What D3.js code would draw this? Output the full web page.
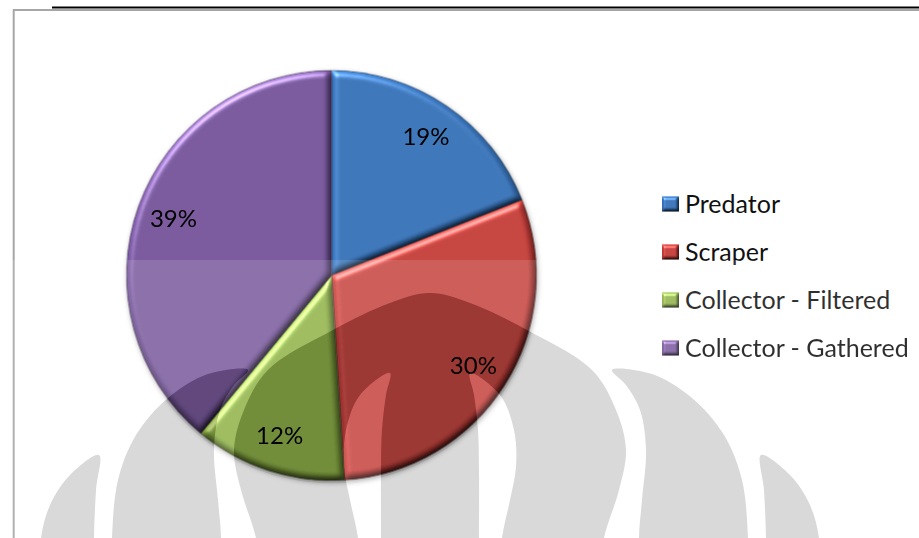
<!DOCTYPE html>
<html>
<head>
<meta charset="utf-8">
<script src="https://cdn.jsdelivr.net/npm/d3@7"></script>
<style>
  html, body { margin: 0; padding: 0; background: #fff; }
  svg { display: block; }
  text { font-family: Lato, "Open Sans", sans-serif; }
</style>
</head>
<body>
<svg id="chart" width="919" height="538"></svg>
<script>
// ---- data ----
const categories = ["Predator", "Scraper", "Collector - Filtered", "Collector - Gathered"];
const values = [19, 30, 12, 39];
const sliceColors = ["#3c7cc8", "#d5433e", "#98c048", "#7e5ba6"];
const percentLabels = ["19%", "30%", "12%", "39%"];

// ---- layout ----
const W = 919, H = 538;
const cx = 331.5, cy = 275.5, R = 205;
const labelR = 168;

const svg = d3.select("#chart");
const defs = svg.append("defs");

// soft bevel lighting for slices
function bevelFilter(id, blur, scale, gain) {
  const f = defs.append("filter").attr("id", id)
    .attr("color-interpolation-filters", "sRGB")
    .attr("x", "-5%").attr("y", "-5%").attr("width", "110%").attr("height", "110%");
  f.append("feGaussianBlur").attr("in", "SourceAlpha").attr("stdDeviation", blur).attr("result", "blur");
  f.append("feDiffuseLighting").attr("in", "blur").attr("surfaceScale", scale)
    .attr("diffuseConstant", 1).attr("lighting-color", "#fff").attr("result", "diff")
    .append("feDistantLight").attr("azimuth", 240).attr("elevation", 50);
  f.append("feComposite").attr("in", "SourceGraphic").attr("in2", "diff")
    .attr("operator", "arithmetic").attr("k1", gain)
    .attr("k2", 0).attr("k3", 0).attr("k4", 0).attr("result", "lit");
  f.append("feSpecularLighting").attr("in", "blur").attr("surfaceScale", scale)
    .attr("specularConstant", 0.45).attr("specularExponent", 35)
    .attr("lighting-color", "#fff").attr("result", "spec")
    .append("feDistantLight").attr("azimuth", 240).attr("elevation", 50);
  f.append("feComposite").attr("in", "spec").attr("in2", "SourceAlpha")
    .attr("operator", "in").attr("result", "specIn");
  f.append("feComposite").attr("in", "lit").attr("in2", "specIn")
    .attr("operator", "arithmetic").attr("k1", 0).attr("k2", 1).attr("k3", 1).attr("k4", 0);
}
bevelFilter("bevel", 3, 3, 1.14);
bevelFilter("bevelSmall", 1.5, 2, 1.14);

defs.append("filter").attr("id", "pieShadow")
  .attr("x", "-10%").attr("y", "-10%").attr("width", "120%").attr("height", "120%")
  .append("feDropShadow").attr("dx", 1).attr("dy", 2).attr("stdDeviation", 2.5)
  .attr("flood-color", "#000").attr("flood-opacity", 0.35);

// background
svg.append("rect").attr("width", W).attr("height", H).attr("fill", "#fff");

// frame lines
svg.append("line").attr("x1", 52).attr("x2", W).attr("y1", 7.5).attr("y2", 7.5)
  .attr("stroke", "#000").attr("stroke-width", 2);
svg.append("line").attr("x1", 13).attr("x2", W).attr("y1", 10).attr("y2", 10)
  .attr("stroke", "#a6a6a6").attr("stroke-width", 1.8);
svg.append("line").attr("x1", 13.7).attr("x2", 13.7).attr("y1", 9.5).attr("y2", H)
  .attr("stroke", "#a6a6a6").attr("stroke-width", 2);

// ---- pie ----
const pie = d3.pie().sort(null).value(d => d)(values);
const arc = d3.arc().innerRadius(0).outerRadius(R);
const labelArc = d3.arc().innerRadius(labelR).outerRadius(labelR);

const pieG = svg.append("g").attr("transform", `translate(${cx},${cy})`)
  .attr("filter", "url(#pieShadow)");
pieG.selectAll("path").data(pie).join("path")
  .attr("d", arc)
  .attr("fill", (d, i) => sliceColors[i])
  .attr("stroke", "rgba(0,0,0,0.25)")
  .attr("stroke-width", 1)
  .attr("filter", "url(#bevel)");

svg.append("g").attr("transform", `translate(${cx},${cy})`)
  .selectAll("text").data(pie).join("text")
  .attr("transform", d => `translate(${labelArc.centroid(d)})`)
  .attr("text-anchor", "middle")
  .attr("dy", "0.35em")
  .attr("font-size", 24)
  .attr("fill", "#000")
  .text((d, i) => percentLabels[i]);

// ---- legend ----
const legendY = d3.scalePoint().domain(categories).range([204, 348]);
const legend = svg.append("g");
const items = legend.selectAll("g").data(categories).join("g")
  .attr("transform", d => `translate(662,${legendY(d)})`);
items.append("rect").attr("x", 0).attr("y", -7.5).attr("width", 17).attr("height", 15)
  .attr("fill", (d, i) => sliceColors[i]).attr("filter", "url(#bevelSmall)");
items.append("text").attr("x", 23).attr("y", 8.5)
  .attr("font-size", 25).attr("fill", "#111")
  .text(d => d);

// ---- faint emblem printed over the lower page ----
const smooth = d3.line().curve(d3.curveCatmullRomClosed.alpha(0.5));
const emblemOutlines = [
  // central bulb
  [[430,293],[470,303],[527,330],[592,370],[616,410],[626,450],[619,490],[604,538],[600,575],
   [260,575],[256,538],[241,490],[234,450],[244,410],[268,370],[333,330],[390,303]],
  // openings inside the bulb
  [[470,373],[500,395],[514,430],[516,467],[510,500],[502,538],[500,575],[479,575],[479,538],[479,470],[478,430],[474,395]],
  [[390,373],[360,395],[346,430],[344,467],[350,500],[358,538],[360,575],[381,575],[381,538],[381,470],[382,430],[386,395]],
  // right petals
  [[612,370],[652,374],[692,398],[724,435],[742,480],[748,538],[748,575],[641,575],[639,538],[642,500],[646,450],[640,410],[626,385]],
  [[761,455],[790,475],[810,505],[819,538],[820,575],[766,575],[766,538],[764,490]],
  // left petals
  [[248,370],[208,374],[168,398],[136,435],[118,480],[112,538],[112,575],[219,575],[221,538],[218,500],[214,450],[220,410],[234,385]],
  [[99,455],[70,475],[50,505],[41,538],[40,575],[94,575],[94,538],[96,490]]
];
const emblemPath = emblemOutlines.map(p => smooth(p)).join(" ");

const mask = defs.append("mask").attr("id", "hazeMask")
  .attr("maskUnits", "userSpaceOnUse").attr("x", 0).attr("y", 0).attr("width", W).attr("height", H);
mask.append("rect").attr("width", W).attr("height", H).attr("fill", "#fff");
mask.append("path").attr("d", emblemPath).attr("fill", "#000").attr("fill-rule", "evenodd");

defs.append("clipPath").attr("id", "pieClip")
  .append("circle").attr("cx", cx).attr("cy", cy).attr("r", R + 3);

// pale band over the lower page
svg.append("rect").attr("x", 0).attr("y", 260).attr("width", W).attr("height", H - 260)
  .attr("fill", "#fff").attr("opacity", 0.13).attr("mask", "url(#hazeMask)");

// emblem shapes (darkening)
svg.append("path").attr("d", emblemPath).attr("fill-rule", "evenodd")
  .attr("fill", "#d9d9d9").style("mix-blend-mode", "multiply");
svg.append("path").attr("d", emblemPath).attr("fill-rule", "evenodd")
  .attr("clip-path", "url(#pieClip)")
  .attr("fill", "#ececec").style("mix-blend-mode", "multiply");
</script>
</body>
</html>
